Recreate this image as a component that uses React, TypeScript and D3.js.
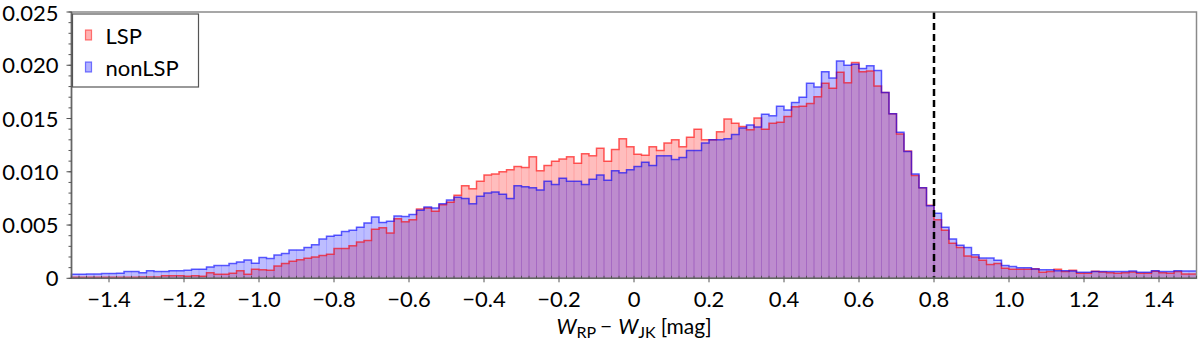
import React from "react";
import * as d3 from "d3";

// histogram: 150 bins of width 0.02 from -1.5 to 1.5 (normalised fraction per bin)
const binStart = -1.5;
const binWidth = 0.02;

const lsp = [
  0.0001, 0.0001, 0.0001, 0.0001, 0.00011, 0.00011, 0.00011, 0.00011, 0.00011, 0.00013,
  0.00013, 0.00013, 0.00025, 0.00025, 0.00025, 0.0002, 0.00025, 0.0002, 0.00053, 0.00038,
  0.00038, 0.00047, 0.00072, 0.00038, 0.00085, 0.0008, 0.00075, 0.00116, 0.0014, 0.0016,
  0.00175, 0.00188, 0.002, 0.00215, 0.00225, 0.0028, 0.0028, 0.00305, 0.0034, 0.00355,
  0.0046, 0.00475, 0.00425, 0.0056, 0.0053, 0.0055, 0.0065, 0.0066, 0.0063, 0.0069,
  0.00715, 0.0078, 0.0087, 0.0084, 0.0091, 0.0097, 0.0098, 0.01, 0.0102, 0.0105,
  0.0104, 0.0114, 0.0101, 0.0106, 0.011, 0.0112, 0.0114, 0.0108, 0.0117, 0.0115,
  0.0122, 0.011, 0.0121, 0.0131, 0.01235, 0.01165, 0.01155, 0.01235, 0.012, 0.0127,
  0.013, 0.01235, 0.01325, 0.014, 0.013, 0.013, 0.01375, 0.01495, 0.01455, 0.01425,
  0.01395, 0.01505, 0.014, 0.01455, 0.01465, 0.0152, 0.0161, 0.01615, 0.0164, 0.01705,
  0.0183, 0.01785, 0.01935, 0.01835, 0.02025, 0.0194, 0.01945, 0.01805, 0.01745, 0.01545,
  0.01355, 0.01195, 0.00965, 0.0085, 0.00685, 0.0055, 0.0045, 0.0033, 0.0029, 0.0021,
  0.002, 0.0017, 0.0013, 0.0014, 0.00095, 0.00085, 0.00085, 0.00085, 0.0009, 0.00056,
  0.00063, 0.00085, 0.00063, 0.00075, 0.00047, 0.00047, 0.00066, 0.0006, 0.00053, 0.00047,
  0.00053, 0.0006, 0.00047, 0.00047, 0.00066, 0.00053, 0.00047, 0.00063, 0.00041, 0.00041,
];

const nonLsp = [
  0.00038, 0.00038, 0.0004, 0.0004, 0.00044, 0.00046, 0.00048, 0.00063, 0.00063, 0.00053,
  0.00072, 0.00063, 0.00064, 0.00072, 0.00072, 0.00075, 0.00085, 0.00086, 0.00106, 0.00119,
  0.0012, 0.00138, 0.00153, 0.00172, 0.00141, 0.00195, 0.00185, 0.00218, 0.00232, 0.00265,
  0.00265, 0.0029, 0.00315, 0.00368, 0.00395, 0.00405, 0.0044, 0.0045, 0.0048, 0.0052,
  0.00575, 0.00525, 0.00535, 0.00585, 0.0058, 0.006, 0.0064, 0.0067, 0.0066, 0.007,
  0.00735, 0.0076, 0.0075, 0.007, 0.0077, 0.008, 0.0081, 0.0079, 0.0075, 0.0087,
  0.0086, 0.0085, 0.0083, 0.0091, 0.0088, 0.0094, 0.0091, 0.0091, 0.0088, 0.0093,
  0.0097, 0.0092, 0.0101, 0.0099, 0.0102, 0.0105, 0.0109, 0.0106, 0.0115, 0.0115,
  0.01115, 0.01135, 0.012, 0.012, 0.0127, 0.013, 0.013, 0.0131, 0.0135, 0.0141,
  0.0144, 0.0142, 0.0154, 0.01525, 0.01615, 0.0158, 0.0165, 0.017, 0.0183, 0.01795,
  0.0194, 0.0188, 0.0204, 0.02, 0.0201, 0.0197, 0.01995, 0.0195, 0.01745, 0.01545,
  0.0137, 0.0119, 0.0098, 0.0085, 0.0068, 0.0061, 0.0048, 0.0037, 0.0031, 0.0029,
  0.0022, 0.0019, 0.0019, 0.0017, 0.0012, 0.0011, 0.001, 0.001, 0.00088, 0.0008,
  0.0008, 0.00072, 0.00072, 0.00069, 0.00056, 0.00056, 0.00063, 0.00063, 0.00063, 0.00063,
  0.00063, 0.00069, 0.00056, 0.00056, 0.00072, 0.00063, 0.00063, 0.00072, 0.00069, 0.00069,
];

const xTicks = [-1.4, -1.2, -1.0, -0.8, -0.6, -0.4, -0.2, 0, 0.2, 0.4, 0.6, 0.8, 1.0, 1.2, 1.4];
const yTicks = [0, 0.005, 0.01, 0.015, 0.02, 0.025];
const yTickLabels = ["0", "0.005", "0.010", "0.015", "0.020", "0.025"];
const cutoff = 0.8;

const series = [
  { name: "LSP", values: lsp, color: "#ff0000" },
  { name: "nonLSP", values: nonLsp, color: "#0000ff" },
];

const width = 1200;
const height = 350;
const margin = { top: 12, right: 3.5, bottom: 71.7, left: 71.5 };
const font = "Lato, 'DejaVu Sans', sans-serif";

function fmtX(v: number) {
  if (Math.abs(v) < 1e-9) return "0";
  const s = Math.abs(v).toFixed(1);
  return v < 0 ? "\u2212" + s : s;
}

export default function App() {
  const innerW = width - margin.left - margin.right;
  const innerH = height - margin.top - margin.bottom;
  const x = d3.scaleLinear().domain([-1.5, 1.5]).range([0, innerW]);
  const y = d3.scaleLinear().domain([0, 0.025]).range([innerH, 0]);

  const step = d3
    .line<[number, number]>()
    .x((d) => x(d[0]))
    .y((d) => y(d[1]))
    .curve(d3.curveStepAfter);

  const stepPts = (vals: number[]) => {
    const pts: [number, number][] = [[binStart, 0]];
    vals.forEach((v, i) => pts.push([binStart + i * binWidth, v]));
    pts.push([binStart + vals.length * binWidth, vals[vals.length - 1]]);
    return pts;
  };

  const minorX = d3.range(-1.5, 1.5001, binWidth);
  const minorY = d3.range(0, 0.02501, 0.001);

  return (
    <svg
      width={width}
      height={height}
      style={{ position: "absolute", left: 0, top: 0, background: "#fff" }}
      fontFamily={font}
    >
      <g transform={`translate(${margin.left},${margin.top})`}>
        {series.map((s) => (
          <g key={s.name}>
            {s.values.map((v, i) => (
              <rect
                key={i}
                x={x(binStart + i * binWidth)}
                y={y(v)}
                width={x(binStart + binWidth) - x(binStart)}
                height={innerH - y(v)}
                fill={s.color}
                fillOpacity={0.26}
                stroke={s.color}
                strokeOpacity={0.07}
                strokeWidth={1}
              />
            ))}
          </g>
        ))}
        {series.map((s) => (
          <path
            key={s.name + "-line"}
            d={step(stepPts(s.values)) || ""}
            fill="none"
            stroke={s.color}
            strokeOpacity={0.6}
            strokeWidth={1.5}
          />
        ))}

        {/* cutoff */}
        <line
          x1={x(cutoff)}
          x2={x(cutoff)}
          y1={0}
          y2={innerH}
          stroke="#000"
          strokeWidth={2.5}
          strokeDasharray="7,4"
        />

        {/* frame */}
        <rect x={0} y={0} width={innerW} height={innerH} fill="none" stroke="#8a8a8a" strokeWidth={1.5} />
        <line x1={0} x2={innerW} y1={innerH} y2={innerH} stroke="#666" strokeWidth={1.5} />
        <line x1={0} x2={0} y1={0} y2={innerH} stroke="#666" strokeWidth={1.5} />

        {/* x ticks */}
        {minorX.map((v, i) => (
          <line key={"mx" + i} x1={x(v)} x2={x(v)} y1={innerH} y2={innerH - 2.5} stroke="#555" strokeWidth={1} />
        ))}
        {xTicks.map((v) => (
          <g key={"x" + v} transform={`translate(${x(v)},${innerH})`}>
            <line y1={0} y2={4} stroke="#555" strokeWidth={1} />
            <text y={29} textAnchor="middle" fontSize={22} fill="#000">
              {fmtX(v)}
            </text>
          </g>
        ))}

        {/* y ticks */}
        {minorY.map((v, i) => (
          <line key={"my" + i} x1={-3} x2={0} y1={y(v)} y2={y(v)} stroke="#555" strokeWidth={1} />
        ))}
        {yTicks.map((v, i) => (
          <g key={"y" + v} transform={`translate(0,${y(v)})`}>
            <line x1={-5} x2={0} stroke="#555" strokeWidth={1} />
            <text x={-13} y={i === yTicks.length - 1 ? 9 : 8} textAnchor="end" fontSize={22} fill="#000">
              {yTickLabels[i]}
            </text>
          </g>
        ))}

        {/* x label */}
        <text x={innerW / 2} y={innerH + 56} textAnchor="middle" fontSize={21} fill="#000">
          <tspan fontStyle="italic">W</tspan>
          <tspan fontSize={16} dy={4}>RP</tspan>
          <tspan dy={-4} dx={4}>{"\u2212"}</tspan>
          <tspan fontStyle="italic" dx={6}>W</tspan>
          <tspan fontSize={16} dy={4}>JK</tspan>
          <tspan dy={-4} dx={5}>{"[mag]"}</tspan>
        </text>

        {/* legend */}
        <g transform="translate(1,2)">
          <rect x={0} y={0} width={126} height={73} fill="#fff" stroke="#555" strokeWidth={1.2} />
          {series.map((s, i) => (
            <g key={"lg" + s.name} transform={`translate(0,${i * 32})`}>
              <rect x={13} y={16} width={6} height={10} fill={s.color} fillOpacity={0.3} stroke={s.color} strokeOpacity={0.5} strokeWidth={1.2} />
              <text x={33} y={30} fontSize={22} fill="#000">
                {s.name}
              </text>
            </g>
          ))}
        </g>
      </g>
    </svg>
  );
}
